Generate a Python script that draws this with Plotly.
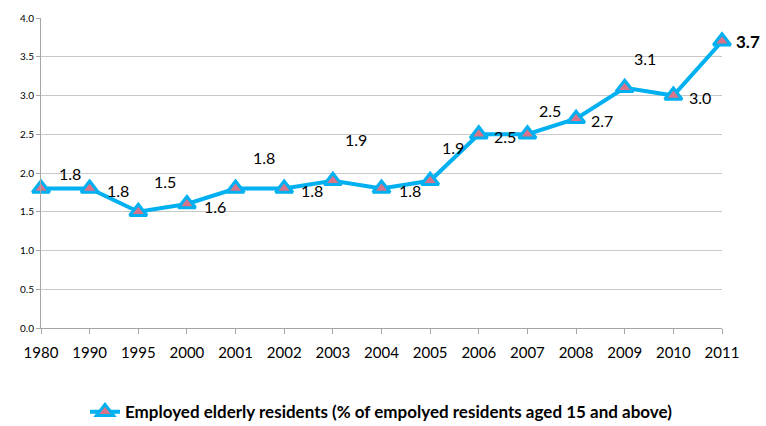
import plotly.graph_objects as go

years = ["1980", "1990", "1995", "2000", "2001", "2002", "2003", "2004",
         "2005", "2006", "2007", "2008", "2009", "2010", "2011"]
values = [1.8, 1.8, 1.5, 1.6, 1.8, 1.8, 1.9, 1.8, 1.9, 2.5, 2.5, 2.7, 3.1, 3.0, 3.7]
labels = ["1.8", "1.8", "1.5", "1.6", "1.8", "1.8", "1.9", "1.8", "1.9",
          "2.5", "2.5", "2.7", "3.1", "3.0", "3.7"]
series_name = "Employed elderly residents (% of empolyed residents aged 15 and above)"
y_ticks = [0.0, 0.5, 1.0, 1.5, 2.0, 2.5, 3.0, 3.5, 4.0]

# label offsets (pixels) relative to each point
label_dx = [29, 28, 27, 28, 28, 28, 23, 28, 23, 26, 23, 26, 20, 27, 26]
label_dy = [15, -2, 30, -2, 31, -2, 41, -2, 33, -2, 24, -2, 29, -2, 0]

BLUE = "#00B0F0"
FONT = "Lato, Noto Sans, sans-serif"

fig = go.Figure()
fig.add_trace(go.Scatter(
    x=years, y=values, mode="lines+markers", name=series_name,
    line=dict(color=BLUE, width=4),
    marker=dict(symbol="triangle-up", size=15, color="#D9738A",
                line=dict(color=BLUE, width=3)),
    cliponaxis=False,
))

annotations = []
for i, (v, t) in enumerate(zip(values, labels)):
    last = i == len(years) - 1
    annotations.append(dict(
        x=i, y=v, xref="x", yref="y", text=t, showarrow=False,
        xanchor="center", yanchor="middle",
        xshift=label_dx[i], yshift=label_dy[i],
        font=dict(family=FONT, size=17 if last else 16, color="#000000",
                  weight="bold" if last else "normal"),
    ))

fig.update_layout(
    width=766, height=426,
    margin=dict(l=41, r=44, t=18, b=98, autoexpand=False),
    paper_bgcolor="white", plot_bgcolor="white",
    annotations=annotations,
    showlegend=True,
    legend=dict(orientation="h", x=0.5, xanchor="center", y=-0.33, yanchor="bottom",
                font=dict(family=FONT, size=17, color="#000000", weight="bold"),
                itemwidth=30),
    xaxis=dict(type="category", range=[0, len(years) - 1],
               showgrid=False, showline=True, linecolor="#A6A6A6", linewidth=1,
               ticks="outside", ticklen=5, tickcolor="#A6A6A6",
               ticklabelstandoff=6,
               tickfont=dict(family=FONT, size=15, color="#000000"),
               zeroline=False),
    yaxis=dict(range=[0, 4.0], tickvals=y_ticks,
               ticktext=[f"{v:.1f}" for v in y_ticks],
               showgrid=True, gridcolor="#C8C8C8", gridwidth=1,
               showline=True, linecolor="#A6A6A6",
               ticks="outside", ticklen=4, tickcolor="#A6A6A6",
               tickfont=dict(family=FONT, size=10, color="#000000"),
               zeroline=False),
)

fig.write_html("out.html")
